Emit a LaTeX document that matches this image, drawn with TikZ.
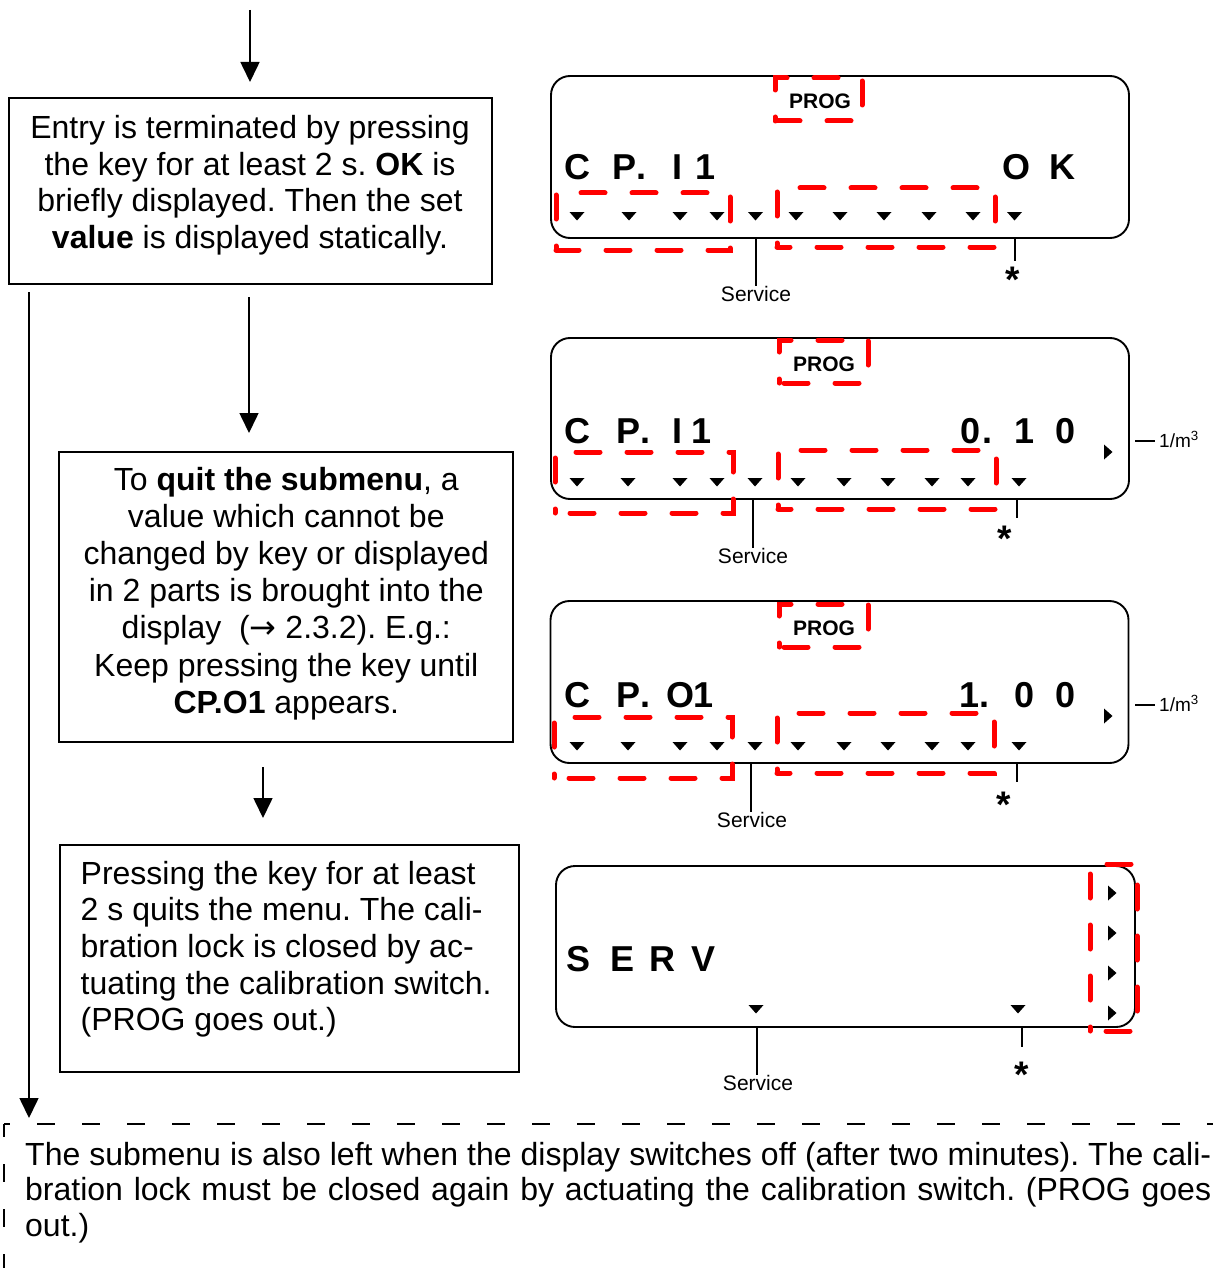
\documentclass[tikz,border=0pt]{standalone}
\usepackage{fontspec}
\setmainfont{Liberation Sans}
\newfontfamily\arrowfont{DejaVu Sans}
\usetikzlibrary{arrows.meta}
\frenchspacing

% filled segment markers of the LCD
\newcommand\lcdDown[2]{\fill (#1-7.5,#2) -- (#1+7.5,#2) -- (#1,#2+8.5) -- cycle;}
\newcommand\lcdRight[2]{\fill (#1-4,#2-7.5) -- (#1+4.5,#2) -- (#1-4,#2+7.5) -- cycle;}
% red dashed highlight frame, drawn from its lower left corner
\newcommand\redFrame[4]{\draw[redbox] (#1,#4) -- (#1,#2) -- (#3,#2) -- (#3,#4) -- cycle;}
% one large LCD character, placed by its centre on the baseline
\newcommand\lcdChar[4]{\node[seg] (#1) at (#2,#3) {#4};}

\begin{document}
\begin{tikzpicture}[x=1pt,y=-1pt,
  box/.style={draw, line width=2pt, inner sep=0pt},
  lcd/.style={draw, line width=1.9pt, rounded corners=19pt, inner sep=0pt},
  redbox/.style={draw=red, line width=5pt, line cap=round,
    dash pattern=on 24pt off 27pt, dash phase=20pt},
  arr/.style={line width=1.6pt, -{Triangle[length=20pt,width=19pt]}},
  thin/.style={line width=1.3pt},
  seg/.style={font=\fontsize{36}{40}\selectfont\bfseries, inner sep=0pt, anchor=base},
  prog/.style={font=\fontsize{21}{24}\selectfont\bfseries, inner sep=0pt},
  svc/.style={font=\fontsize{21}{24}\selectfont, inner sep=0pt},
  star/.style={font=\fontsize{37}{40}\selectfont\bfseries, inner sep=0pt, anchor=base},
  unit/.style={font=\fontsize{19}{22}\selectfont, inner sep=0pt, anchor=base west},
  body/.style={inner sep=0pt, anchor=base}
]
\useasboundingbox (0,0) rectangle (1213,1268);

% ---------- left column: text boxes ----------
\node[box, minimum width=483pt, minimum height=185pt] (b1) at (250,191) {};
\node[body] (t1) at (250,138.5) {\parbox[t]{470pt}{\fontsize{32}{36.7}\selectfont\centering
  Entry is terminated by pressing\\
  the key for at least 2 s. \textbf{OK} is\\
  briefly displayed. Then the set\\
  \textbf{value} is displayed statically.}};

\node[box, minimum width=454pt, minimum height=290pt] (b2) at (286.3,596.7) {};
\node[body] (t2) at (286.3,490) {\parbox[t]{445pt}{\fontsize{32}{37.2}\selectfont\centering
  To \textbf{quit the submenu}, a\\
  value which cannot be\\
  changed by key or displayed\\
  in 2 parts is brought into the\\
  display\ \ ({\arrowfont →} 2.3.2). E.g.:\\
  Keep pressing the key until\\
  \textbf{CP.O1} appears.}};

\node[box, minimum width=459pt, minimum height=227pt] (b3) at (289.6,958.3) {};
\node[body, anchor=base west] (t3) at (80.5,884) {\parbox[t]{430pt}{\fontsize{32}{36.7}\selectfont\raggedright
  Pressing the key for at least\\
  2 s quits the menu. The cali-\\
  bration lock is closed by ac-\\
  tuating the calibration switch.\\
  (PROG goes out.)}};

% ---------- arrows ----------
\coordinate (a0s) at (250,10);
\coordinate (a0e) at (250,82);
\draw[arr] (a0s) -- (a0e);
\coordinate (a1s) at (249,297);
\coordinate (a1e) at (249,433);
\draw[arr] (a1s) -- (a1e);
\coordinate (a2s) at (263,767);
\coordinate (a2e) at (263,818);
\draw[arr] (a2s) -- (a2e);
\coordinate (a3s) at (29,292);
\coordinate (a3e) at (29,1118);
\draw[arr] (a3s) -- (a3e);

% ---------- dashed note at the bottom ----------
\coordinate (nc) at (4,1124);
\coordinate (nr) at (1213,1124);
\coordinate (nb) at (4,1268);
\draw[line width=1.8pt, dash pattern=on 18pt off 27pt, dash phase=12pt] (nc) -- (nr);
\draw[line width=1.8pt, dash pattern=on 18pt off 27pt, dash phase=5pt] (nc) -- (nb);
\node[body, anchor=base west] (t4) at (25,1165) {\parbox[t]{1186pt}{\fontsize{32}{35.9}\selectfont
  \hbox to 1186pt{The submenu is also left when the display switches off (after two minutes). The cali-}
  \hbox to 1186pt{bration lock must be closed again by actuating the calibration switch. (PROG goes}
  \hbox{out.)}}};

% ---------- display 1: CP.I1 OK ----------
\node[lcd, minimum width=578pt, minimum height=162pt] (d1) at (840,157) {};
\redFrame{775}{78}{862}{121}
\node[prog] (p1) at (820,101) {PROG};
\lcdChar{d1a}{577}{179}{C}
\lcdChar{d1b}{624}{179}{P}
\lcdChar{d1c}{641}{179}{.}
\lcdChar{d1d}{677}{179}{I}
\lcdChar{d1e}{706}{179}{1}
\lcdChar{d1f}{1016}{179}{O}
\lcdChar{d1g}{1062}{179}{K}
\foreach \x in {577,629,680,717,755.5,796,840,884,929,973,1014.5} {\lcdDown{\x}{212}}
\redFrame{556}{193}{730}{250}
\redFrame{777}{188}{995}{247}
\node[svc] (s1) at (756,294) {Service};
\coordinate (s1t) at (756,238);
\draw[thin] (s1t) -- (s1.north);
\node[star] (k1) at (1013,292) {*};
\coordinate (k1t) at (1015,238);
\coordinate (k1b) at (1015,261);
\draw[thin] (k1t) -- (k1b);

% ---------- display 2: CP.I1 0.10 ----------
\node[lcd, minimum width=578pt, minimum height=161pt] (d2) at (840,418.5) {};
\redFrame{779}{340}{868}{383}
\node[prog] (p2) at (824,364) {PROG};
\lcdChar{d2a}{577}{443}{C}
\lcdChar{d2b}{628}{443}{P}
\lcdChar{d2c}{645}{443}{.}
\lcdChar{d2d}{677}{443}{I}
\lcdChar{d2e}{702}{443}{1}
\lcdChar{d2f}{970}{443}{0}
\lcdChar{d2g}{987}{443}{.}
\lcdChar{d2h}{1024}{443}{1}
\lcdChar{d2i}{1065}{443}{0}
\foreach \x in {577,628,680,717,755,798,844,888,932,968,1019} {\lcdDown{\x}{478}}
\lcdRight{1108}{452}
\redFrame{555}{452}{733}{513}
\redFrame{778}{450}{996}{509}
\node[svc] (s2) at (753,556) {Service};
\coordinate (s2t) at (753,499);
\draw[thin] (s2t) -- (s2.north);
\node[star] (k2) at (1005,551) {*};
\coordinate (k2t) at (1017,499);
\coordinate (k2b) at (1017,518);
\draw[thin] (k2t) -- (k2b);
\node[unit] (u2) at (1159,447) {1/m\textsuperscript{3}};
\coordinate (u2l) at (1135,441);
\coordinate (u2r) at (1155,441);
\draw[thin] (u2l) -- (u2r);

% ---------- display 3: CP.O1 1.00 ----------
\node[lcd, minimum width=578pt, minimum height=162pt] (d3) at (839.5,682) {};
\redFrame{779}{604}{868}{647}
\node[prog] (p3) at (824,628) {PROG};
\lcdChar{d3a}{577}{707}{C}
\lcdChar{d3b}{628}{707}{P}
\lcdChar{d3c}{645}{707}{.}
\lcdChar{d3d}{680}{707}{O}
\lcdChar{d3e}{704}{707}{1}
\lcdChar{d3f}{969}{707}{1}
\lcdChar{d3g}{984}{707}{.}
\lcdChar{d3h}{1024}{707}{0}
\lcdChar{d3i}{1065}{707}{0}
\foreach \x in {577,628,680,717,755,798,844,888,932,968,1019} {\lcdDown{\x}{742}}
\lcdRight{1108}{716}
\redFrame{554}{717}{732}{778}
\redFrame{777}{713}{994}{773}
\node[svc] (s3) at (752,820) {Service};
\coordinate (s3t) at (751,763);
\draw[thin] (s3t) -- (s3.north -| s3t);
\node[star] (k3) at (1004,817) {*};
\coordinate (k3t) at (1017,763);
\coordinate (k3b) at (1017,782);
\draw[thin] (k3t) -- (k3b);
\node[unit] (u3) at (1159,711) {1/m\textsuperscript{3}};
\coordinate (u3l) at (1135,705);
\coordinate (u3r) at (1155,705);
\draw[thin] (u3l) -- (u3r);

% ---------- display 4: SERV ----------
\node[lcd, minimum width=579pt, minimum height=161pt] (d4) at (845.5,946.5) {};
\lcdChar{d4a}{578}{971}{S}
\lcdChar{d4b}{622}{971}{E}
\lcdChar{d4c}{662}{971}{R}
\lcdChar{d4d}{703}{971}{V}
\foreach \x in {756,1018} {\lcdDown{\x}{1005}}
\foreach \y in {893,933,973,1013} {\lcdRight{1112}{\y}}
\redFrame{1090}{864}{1137}{1031}
\node[svc] (s4) at (758,1083) {Service};
\coordinate (s4t) at (757,1027);
\draw[thin] (s4t) -- (s4.north -| s4t);
\node[star] (k4) at (1022,1087) {*};
\coordinate (k4t) at (1022,1027);
\coordinate (k4b) at (1022,1047);
\draw[thin] (k4t) -- (k4b);
\end{tikzpicture}
\end{document}
